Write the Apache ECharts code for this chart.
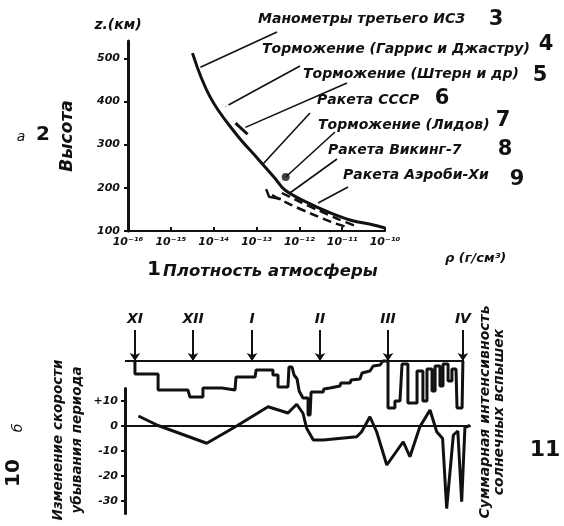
<!DOCTYPE html>
<html>
<head>
<meta charset="utf-8">
<script src="https://cdn.jsdelivr.net/npm/echarts@6.0.0/dist/echarts.min.js"></script>
<style>
    html, body { margin: 0; padding: 0; background: #fff; }
    #chart { width: 564px; height: 526px; }
</style>
</head>
<body>
<div id="chart"></div>
<script>
// --- top panel: atmosphere density vs height ---
var heightTicks = [100, 200, 300, 400, 500];

// main curve, manometers of the 3rd satellite
var satDensity = [3.2e-15, 8.3e-15, 3.2e-14, 1.15e-13, 2.7e-13, 4.6e-13, 1.6e-12, 4.7e-12, 1.6e-11, 5.4e-11, 1e-10];
var satHeight = [512, 410, 327, 264, 222, 195, 165, 144, 125, 114, 107];

var harrisDensity = [1.82e-14];
var harrisHeight = [387];

var sternDensity = [3.24e-14, 6.2e-14];
var sternHeight = [350, 324];

var ussrDensity = [1.68e-13, 1.97e-13, 3.7e-13];
var ussrHeight = [197, 179, 174];

var lidovDensity = [4.8e-13];
var lidovHeight = [225];

var vikingDensity = [3.9e-13, 1.12e-12, 2.9e-12, 8.3e-12, 2.0e-11];
var vikingHeight = [188, 166, 147, 127, 112];

var aerobeeDensity = [2.3e-13, 6.6e-13, 1.9e-12, 5.5e-12, 1.2e-11];
var aerobeeHeight = [183, 160, 140, 121, 110];

var sourceNames = ['Манометры третьего ИСЗ', 'Торможение (Гаррис и Джастру)', 'Торможение (Штерн и др)',
    'Ракета СССР', 'Торможение (Лидов)', 'Ракета Викинг-7', 'Ракета Аэроби-Хи'];
var sourceNumbers = ['3', '4', '5', '6', '7', '8', '9'];
// where each leader line touches its data
var leaderDensity = [4.9e-15, 1.82e-14, 5.5e-14, 1.35e-13, 4.8e-13, 6.0e-13, 2.75e-12];
var leaderHeight = [479, 387, 340, 253, 225, 188, 165];

// --- bottom panel: period change and solar flares ---
var monthNames = ['XI', 'XII', 'I', 'II', 'III', 'IV'];
var monthDay = [4.9, 33.5, 62.6, 96.1, 129.6, 166.5];
var periodTicks = [-30, -20, -10, 0, 10];

var periodDay = [6.6, 16.3, 40.3, 55.0, 70.5, 80.3, 84.6, 87.7, 89.5, 92.8, 97.7, 114.2, 116.6, 120.7,
    124.0, 129.0, 137.1, 140.4, 145.3, 150.3, 153.6, 156.5, 158.5, 161.8, 164.0, 165.9, 167.5, 170];
var periodChange = [4.0, 0.2, -6.9, 0.0, 7.7, 5.2, 8.7, 5.1, -0.9, -5.6, -5.6, -4.3, -2.3, 3.7,
    -2.3, -15.6, -6.3, -12.3, -0.3, 6.4, -2.3, -5, -33, -3.6, -2, -30.3, -0.5, 0.2];

var flareDay = [4.9, 4.9, 16.3, 16.3, 31.0, 32.0, 38.4, 38.4, 47.8, 47.8, 54.2, 54.7, 64.1, 64.6, 72.9,
    72.9, 75.4, 75.4, 80.3, 80.8, 82.3, 83.3, 84.8, 85.8, 87.7, 90.2, 90.2, 91.2, 91.7, 97.6, 98.0,
    101.0, 101.5, 105.9, 106.4, 110.9, 111.4, 115.8, 116.8, 120.7, 122.3, 125.7, 127.1, 129.6, 129.6,
    133.0, 133.0, 135.5, 136.5, 139.4, 139.4, 143.9, 143.9, 146.8, 146.8, 148.8, 148.8, 151.3, 151.3,
    152.8, 152.8, 155.2, 155.2, 156.7, 156.7, 159.2, 159.2, 161.1, 161.1, 163.1, 163.6, 166.1, 166.5];
var flareLevel = [0, 13, 13, 29, 29, 36, 36, 27, 27, 29, 29, 16, 16, 9, 9,
    14, 14, 26, 26, 6, 6, 14, 18, 30, 37, 37, 54, 54, 31, 31, 28,
    27, 25, 25, 22, 22, 19, 18, 12, 10, 5, 4, 0, 0, 47,
    47, 40, 40, 3, 3, 42, 42, 10, 10, 40, 40, 8, 8, 30,
    30, 5, 5, 25, 25, 3, 3, 20, 20, 8, 8, 47, 47, 0];

var INK = '#111';
var FONT = 'DejaVu Sans';

function zip(xs, ys) {
    var out = [];
    for (var i = 0; i < xs.length; i++) {
        out.push([xs[i], ys[i]]);
    }
    return out;
}

var supMap = {'-': '⁻', '0': '⁰', '1': '¹', '2': '²', '3': '³', '4': '⁴', '5': '⁵', '6': '⁶', '7': '⁷', '8': '⁸', '9': '⁹'};
function sup(n) {
    return String(n).split('').map(function(c) { return supMap[c] || c; }).join('');
}

var labelStyle = {color: INK, fontFamily: FONT, fontStyle: 'italic', fontWeight: 'bold'};

var monthLines = [[{coord: [0, 0], symbol: 'none', label: {show: false}},
    {coord: [monthDay[monthDay.length - 1], 0], symbol: 'none', label: {show: false}}]];
for (var m = 0; m < monthNames.length; m++) {
    monthLines.push([{name: monthNames[m], coord: [monthDay[m], -31]}, {coord: [monthDay[m], 0]}]);
}

var chart = echarts.init(document.getElementById('chart'));

var option = {
    backgroundColor: '#fff',
    animation: false,
    grid: [
        {left: 128, right: 179, top: 41, bottom: 295},
        {left: 125, width: 345, top: 388.5, height: 125},
        {left: 125, width: 345, top: 316, height: 105}
    ],
    xAxis: [
        {
            gridIndex: 0, type: 'log', logBase: 10, min: 1e-16, max: 1e-10, splitNumber: 6,
            axisLine: {lineStyle: {color: INK, width: 2}},
            axisTick: {inside: true, length: 4, lineStyle: {color: INK, width: 2}},
            splitLine: {show: false},
            axisLabel: Object.assign({fontSize: 11, margin: 6, formatter: function(v) {
                return '10' + sup(Math.round(Math.log10(v)));
            }}, labelStyle)
        },
        {
            gridIndex: 1, type: 'value', min: 0, max: 170,
            axisLine: {onZero: true, lineStyle: {color: INK, width: 2}},
            axisTick: {show: false}, axisLabel: {show: false}, splitLine: {show: false}
        },
        {
            gridIndex: 2, type: 'value', min: 0, max: 170, show: false
        }
    ],
    yAxis: [
        {
            gridIndex: 0, type: 'value', min: 100, max: 540, interval: 100,
            name: 'Высота', nameLocation: 'middle', nameGap: 52, nameRotate: 90,
            nameTextStyle: Object.assign({fontSize: 17}, labelStyle),
            axisLine: {lineStyle: {color: INK, width: 3}},
            axisTick: {length: 4, lineStyle: {color: INK, width: 2}},
            splitLine: {show: false},
            axisLabel: Object.assign({fontSize: 11, margin: 8, showMaxLabel: false}, labelStyle)
        },
        {
            gridIndex: 1, type: 'value', min: -35, max: 15,
            axisLine: {onZero: false, lineStyle: {color: INK, width: 3}},
            axisTick: {length: 4, customValues: periodTicks, lineStyle: {color: INK, width: 2}},
            splitLine: {show: false},
            axisLabel: Object.assign({fontSize: 11, margin: 7, customValues: periodTicks, formatter: function(v) {
                return v > 0 ? '+' + v : String(v);
            }}, labelStyle)
        },
        {
            gridIndex: 2, type: 'value', min: -45, max: 60, inverse: true, show: false
        }
    ],
    series: [
        {
            name: sourceNames[0], type: 'line', xAxisIndex: 0, yAxisIndex: 0, smooth: 0.4,
            symbol: 'none', data: zip(satDensity, satHeight),
            lineStyle: {color: INK, width: 3}
        },
        {
            name: sourceNames[1], type: 'scatter', xAxisIndex: 0, yAxisIndex: 0,
            symbol: 'emptyCircle', symbolSize: 7, data: zip(harrisDensity, harrisHeight),
            itemStyle: {color: '#fff', borderColor: INK, borderWidth: 2}
        },
        {
            name: sourceNames[2], type: 'line', xAxisIndex: 0, yAxisIndex: 0,
            symbol: 'none', data: zip(sternDensity, sternHeight),
            lineStyle: {color: INK, width: 3}
        },
        {
            name: sourceNames[3], type: 'line', xAxisIndex: 0, yAxisIndex: 0,
            symbol: 'none', data: zip(ussrDensity, ussrHeight),
            lineStyle: {color: INK, width: 2.5}
        },
        {
            name: sourceNames[4], type: 'scatter', xAxisIndex: 0, yAxisIndex: 0,
            symbol: 'circle', symbolSize: 8, data: zip(lidovDensity, lidovHeight),
            itemStyle: {color: INK}
        },
        {
            name: sourceNames[5], type: 'line', xAxisIndex: 0, yAxisIndex: 0, smooth: 0.3,
            symbol: 'none', data: zip(vikingDensity, vikingHeight),
            lineStyle: {color: INK, width: 2.5, type: [9, 5]}
        },
        {
            name: sourceNames[6], type: 'line', xAxisIndex: 0, yAxisIndex: 0, smooth: 0.3,
            symbol: 'none', data: zip(aerobeeDensity, aerobeeHeight),
            lineStyle: {color: INK, width: 2.5, type: [9, 5]}
        },
        {
            name: 'Изменение скорости убывания периода', type: 'line', xAxisIndex: 1, yAxisIndex: 1,
            symbol: 'none', data: zip(periodDay, periodChange),
            lineStyle: {color: INK, width: 3}
        },
        {
            name: 'Суммарная интенсивность солнечных вспышек', type: 'line', xAxisIndex: 2, yAxisIndex: 2,
            symbol: 'none', data: zip(flareDay, flareLevel),
            lineStyle: {color: INK, width: 3},
            markLine: {
                silent: true, symbol: ['none', 'arrow'], symbolSize: 8,
                lineStyle: {color: INK, width: 2, type: 'solid'},
                label: Object.assign({show: true, position: 'start', formatter: '{b}', fontSize: 14, distance: 4}, labelStyle),
                data: monthLines
            }
        }
    ]
};

chart.setOption(option);

// texts and leader lines laid over the chart
var labelPos = [[258, 19], [262, 49], [303, 74], [317, 100], [318, 125], [328, 150], [343, 175]];
var numberPos = [[496, 20], [546, 45], [540, 76], [442, 99], [503, 121], [505, 150], [517, 180]];
var leaderEnd = [[277, 32], [300, 66], [347, 83], [310, 113], [335, 132], [337, 159], [348, 187]];

function text(str, x, y, size, extra) {
    var style = Object.assign({
        text: str, x: 0, y: 0, fill: INK, fontFamily: FONT, fontSize: size,
        fontStyle: 'italic', fontWeight: 'bold', align: 'left', verticalAlign: 'middle'
    }, extra && extra.style);
    return {type: 'text', x: x, y: y, rotation: (extra && extra.rotation) || 0, style: style, silent: true};
}

var graphics = [];
for (var i = 0; i < sourceNames.length; i++) {
    var p = chart.convertToPixel({gridIndex: 0}, [leaderDensity[i], leaderHeight[i]]);
    graphics.push({
        type: 'line', silent: true,
        shape: {x1: p[0], y1: p[1], x2: leaderEnd[i][0], y2: leaderEnd[i][1]},
        style: {stroke: INK, lineWidth: 1.6}
    });
    graphics.push(text(sourceNames[i], labelPos[i][0], labelPos[i][1], 14));
    graphics.push(text(sourceNumbers[i], numberPos[i][0], numberPos[i][1], 21, {style: {fontStyle: 'normal', align: 'center'}}));
}

graphics.push(text('z.(км)', 118, 25, 14, {style: {align: 'center'}}));
graphics.push(text('а', 21, 137, 14, {style: {fontWeight: 'normal', align: 'center'}}));
graphics.push(text('2', 43, 135, 20, {style: {fontStyle: 'normal', align: 'center'}}));
graphics.push(text('ρ (г/см³)', 445, 259, 13));
graphics.push(text('1', 154, 270, 20, {style: {fontStyle: 'normal', align: 'center'}}));
graphics.push(text('Плотность атмосферы', 163, 272, 16.5));

graphics.push(text('б', 18, 428, 14, {rotation: Math.PI / 2, style: {fontWeight: 'normal', align: 'center'}}));
graphics.push(text('10', 14, 473, 20, {rotation: Math.PI / 2, style: {fontStyle: 'normal', align: 'center'}}));
graphics.push(text('Изменение скорости\nубывания периода', 68, 440, 13.5,
    {rotation: Math.PI / 2, style: {align: 'center', lineHeight: 19}}));
graphics.push(text('Суммарная интенсивность\nсолнечных вспышек', 492, 412, 14,
    {rotation: Math.PI / 2, style: {align: 'center', lineHeight: 14}}));
graphics.push(text('11', 545, 450, 22, {style: {fontStyle: 'normal', align: 'center'}}));

chart.setOption({graphic: graphics});
</script>
</body>
</html>
